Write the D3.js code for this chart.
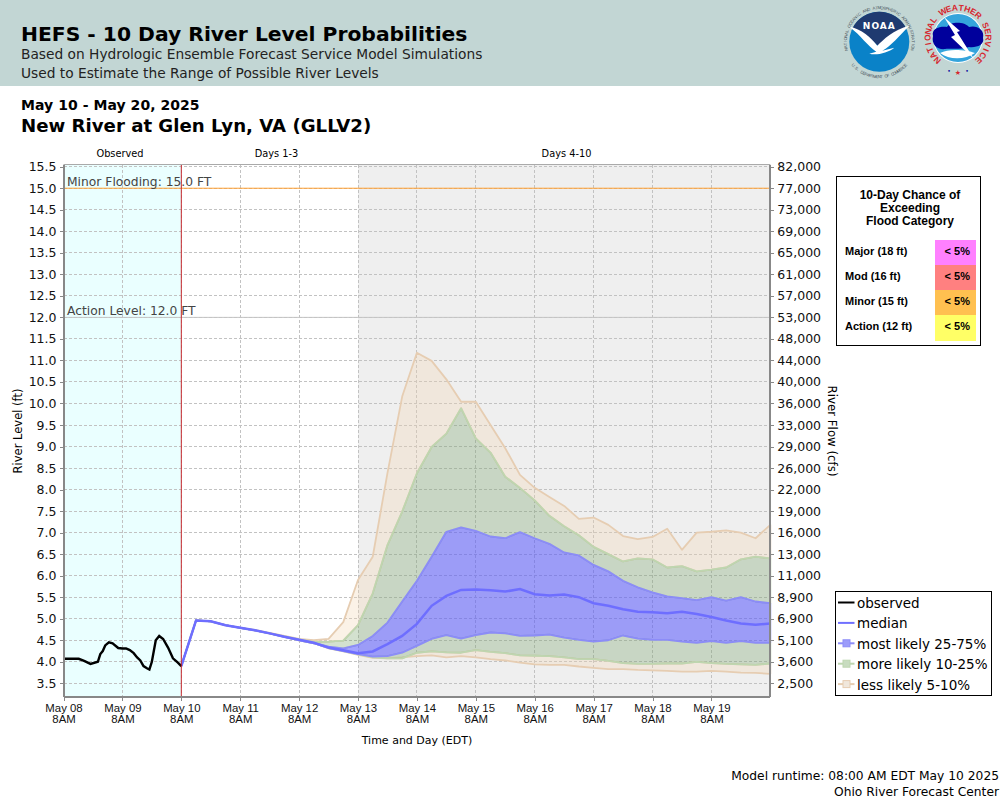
<!DOCTYPE html>
<html>
<head>
<meta charset="utf-8">
<script src="https://cdn.jsdelivr.net/npm/d3@7"></script>
<style>
html, body { margin: 0; padding: 0; background: #fff; }
svg { display: block; font-family: "DejaVu Sans", sans-serif; }
.grid line { stroke: #c2c2c2; stroke-dasharray: 3 2; stroke-width: 1; shape-rendering: crispEdges; }
.axis path, .axis line { stroke: #888; shape-rendering: crispEdges; }
.axis path { stroke-width: 2; }
.axis text { fill: #111; }
</style>
</head>
<body>
<svg id="chart" width="1000" height="800"></svg>
<script>
// values
var levelTicks = d3.range(3.5, 15.51, 0.5);
var flowLabels = ["2,500","3,600","5,100","6,900","8,900","11,000","13,000","16,000","19,000","22,000","26,000","29,000","33,000","36,000","40,000","44,000","48,000","53,000","57,000","61,000","65,000","69,000","73,000","77,000","82,000"];
var dayLabels = ["May 08","May 09","May 10","May 11","May 12","May 13","May 14","May 15","May 16","May 17","May 18","May 19"];

// observed stage, hours after May 08 8AM
var obsHours = [0,3,6.2,8.4,11,14,15,16,17,18.5,20,22.3,24,25.5,27,28.6,30,31.3,32.6,34,35,36,37.6,39,40.6,42.6,44.6,46.6,48];
var obsLevel = [4.07,4.07,4.07,4.02,3.95,4.0,4.18,4.25,4.38,4.45,4.43,4.32,4.31,4.31,4.27,4.2,4.1,4.03,3.9,3.85,3.82,4.0,4.5,4.6,4.53,4.33,4.08,3.98,3.9];

// forecast traces every 6 hours from May 10 8AM to May 20 8AM
var forecastStepHours = 6;
var forecastStart = 48;
var p95 = [3.9,4.96,4.94,4.85,4.79,4.74,4.67,4.6,4.53,4.5,4.53,4.92,5.9,6.44,8.38,10.16,11.18,10.99,10.56,10.04,10.04,9.5,8.96,8.34,8.04,7.83,7.62,7.32,7.35,7.18,6.92,6.85,6.9,7.09,6.6,7.0,7.02,7.05,7.0,6.87,7.18];
var p90 = [3.9,4.96,4.94,4.85,4.79,4.73,4.66,4.59,4.52,4.46,4.47,4.49,4.85,5.59,6.71,7.49,8.38,8.99,9.3,9.89,9.19,8.86,8.3,8.04,7.75,7.39,7.15,6.94,6.67,6.5,6.33,6.4,6.38,6.19,6.22,6.1,6.14,6.19,6.38,6.44,6.4];
var p75 = [3.9,4.96,4.94,4.85,4.79,4.73,4.66,4.58,4.51,4.44,4.35,4.31,4.39,4.6,4.91,5.4,5.88,6.44,7.02,7.12,7.04,6.91,6.87,7.01,6.87,6.74,6.54,6.47,6.25,6.1,5.88,5.73,5.61,5.52,5.48,5.43,5.5,5.42,5.5,5.4,5.36];
var p50 = [3.9,4.96,4.94,4.85,4.79,4.73,4.66,4.58,4.51,4.44,4.33,4.27,4.2,4.24,4.41,4.6,4.88,5.3,5.53,5.67,5.68,5.66,5.63,5.69,5.57,5.54,5.56,5.5,5.36,5.3,5.22,5.16,5.15,5.13,5.16,5.11,5.04,4.96,4.89,4.86,4.89];
var p25 = [3.9,4.96,4.94,4.85,4.79,4.73,4.66,4.58,4.5,4.43,4.32,4.25,4.18,4.12,4.13,4.21,4.37,4.53,4.62,4.54,4.62,4.68,4.66,4.6,4.61,4.63,4.56,4.51,4.47,4.5,4.61,4.54,4.51,4.51,4.47,4.44,4.48,4.44,4.48,4.44,4.44];
var p10 = [3.9,4.96,4.94,4.85,4.79,4.73,4.66,4.58,4.5,4.43,4.32,4.25,4.17,4.1,4.08,4.08,4.21,4.24,4.22,4.21,4.27,4.23,4.2,4.15,4.14,4.13,4.1,4.06,4.06,4.02,3.97,3.95,3.95,3.96,3.96,4.0,3.97,3.95,3.94,3.93,3.96];
var p05 = [3.9,4.96,4.94,4.85,4.79,4.73,4.66,4.58,4.5,4.43,4.31,4.24,4.16,4.09,4.08,4.1,4.13,4.15,4.1,4.13,4.1,4.06,4.03,3.98,3.94,3.93,3.93,3.89,3.86,3.83,3.83,3.81,3.8,3.79,3.77,3.77,3.79,3.77,3.75,3.74,3.72];

var floodCats = ["Major (18 ft)","Mod (16 ft)","Minor (15 ft)","Action (12 ft)"];
var floodChance = ["< 5%","< 5%","< 5%","< 5%"];
var floodColors = ["#ff80ff","#ff8080","#ffc050","#ffff66"];

var legendNames = ["observed","median","most likely 25-75%","more likely 10-25%","less likely 5-10%"];

var svg = d3.select("#chart");

// header
svg.append("rect").attr("width", 1000).attr("height", 86).attr("fill", "#c2d6d4");
svg.append("text").attr("x", 21).attr("y", 40.5).attr("font-size", 20.3).attr("font-weight", "bold").text("HEFS - 10 Day River Level Probabilities");
svg.append("text").attr("x", 21).attr("y", 59).attr("font-size", 13.76).attr("fill", "#222").text("Based on Hydrologic Ensemble Forecast Service Model Simulations");
svg.append("text").attr("x", 21).attr("y", 78).attr("font-size", 13.76).attr("fill", "#222").text("Used to Estimate the Range of Possible River Levels");
svg.append("text").attr("x", 21).attr("y", 110).attr("font-size", 14).attr("font-weight", "bold").attr("letter-spacing", 0.05).text("May 10 - May 20, 2025");
svg.append("text").attr("x", 21).attr("y", 132).attr("font-size", 18.15).attr("font-weight", "bold").text("New River at Glen Lyn, VA (GLLV2)");

// letters around a logo, angles in degrees clockwise from the top
function ringText(g, str, r, a0, a1, size, fill, weight, inward) {
    var step = (a1 - a0) / (str.length - 1);
    g.selectAll(null).data(str.split("")).enter().append("text")
        .attr("transform", function(d, i) {
            var a = a0 + i * step;
            return "rotate(" + a + ") translate(0," + (-r) + ")" + (inward ? " rotate(180)" : "");
        })
        .attr("text-anchor", "middle")
        .attr("font-size", size)
        .attr("font-weight", weight)
        .attr("font-family", "Liberation Sans, sans-serif")
        .attr("fill", fill)
        .text(function(d) { return d; });
}
function noaaLogo(cx, cy) {
    var g = svg.append("g").attr("transform", "translate(" + cx + "," + cy + ")");
    g.append("circle").attr("r", 30).attr("fill", "#0a82c8");
    g.append("path").attr("d", "M-27,-13 A30,30 0 0 1 27,-13 C14,-8 6,2 -1,4 C-7,0 -14,-10 -27,-13 Z").attr("fill", "#1f3a70");
    g.append("path").attr("d", "M-30,-15 C-18,-13 -8,-4 -2,4 C4,-2 14,-12 30,-16 C20,-6 12,4 3,9 L15,6 C9,11 -3,14 -10,12 L-3,10 C-12,4 -18,-6 -30,-15 Z").attr("fill", "#fff");
    g.append("text").attr("y", -12.4).attr("text-anchor", "middle").attr("font-size", 9).attr("font-weight", "bold").attr("letter-spacing", 1).attr("fill", "#fff").text("NOAA");
    ringText(g, "NATIONAL OCEANIC AND ATMOSPHERIC ADMINISTRATION", 32.5, -103, 103, 4.2, "#4a5560", "normal", false);
    ringText(g, "U.S. DEPARTMENT OF COMMERCE", 36.5, 228, 132, 4.2, "#4a5560", "normal", true);
}
function nwsLogo(cx, cy) {
    var g = svg.append("g").attr("transform", "translate(" + cx + "," + cy + ")");
    g.append("circle").attr("r", 25).attr("fill", "#fff");
    g.append("circle").attr("r", 24).attr("fill", "#34a4dc");
    g.append("path").attr("d", "M-25,-2 C-27,-10 -17,-12 -11,-11 C-7,-17 7,-16 11,-11 C18,-13 27,-9 25,0 C27,7 18,10 11,9 C2,12 -9,10 -13,11 C-20,12 -27,7 -25,-2 Z").attr("fill", "#00009c");
    g.append("path").attr("d", "M-18,15 C-9,10 9,12 17,15 C7,22 -9,22 -18,15 Z").attr("fill", "#fff");
    g.append("path").attr("d", "M-14,-21 L2,-7 L-1,-6 L16,21 L-7,-1 L-3,-3 Z").attr("fill", "#fff");
    ringText(g, "NATIONAL WEATHER SERVICE", 27.5, -137, 137, 8.5, "#d6262e", "bold", false);
    g.append("text").attr("y", 37).attr("text-anchor", "middle").attr("font-size", 7).attr("fill", "#d6262e").text("\u2605");
    g.append("text").attr("x", -9).attr("y", 35).attr("text-anchor", "middle").attr("font-size", 6).attr("fill", "#00009c").text("\u2022");
    g.append("text").attr("x", 9).attr("y", 35).attr("text-anchor", "middle").attr("font-size", 6).attr("fill", "#00009c").text("\u2022");
}
noaaLogo(879.3, 41.7);
nwsLogo(958, 38);

// scales
var plot = {left: 63.5, right: 770.3, top: 164.5, bottom: 697.3};
var totalHours = 288;
var x = d3.scaleLinear().domain([0, totalHours]).range([plot.left, plot.right]);
var y = d3.scaleLinear().domain([3.5, 15.5]).range([683.3, 166.7]);
var dayHours = dayLabels.map(function(d, i) { return i * 24; });

// shaded periods
svg.append("rect").attr("x", x(0)).attr("y", plot.top).attr("width", x(48) - x(0)).attr("height", plot.bottom - plot.top).attr("fill", "#eaffff");
svg.append("rect").attr("x", x(120)).attr("y", plot.top).attr("width", x(totalHours) - x(120)).attr("height", plot.bottom - plot.top).attr("fill", "#efefef");

// grid
var grid = svg.append("g").attr("class", "grid");
grid.selectAll(".h").data(levelTicks).enter().append("line").attr("class", "h")
    .attr("x1", plot.left).attr("x2", plot.right)
    .attr("y1", function(d) { return y(d); }).attr("y2", function(d) { return y(d); });
grid.selectAll(".v").data(dayHours.slice(1)).enter().append("line").attr("class", "v")
    .attr("y1", plot.top).attr("y2", plot.bottom)
    .attr("x1", function(d) { return x(d); }).attr("x2", function(d) { return x(d); });

// flood lines
svg.append("line").attr("x1", plot.left).attr("x2", plot.right).attr("y1", y(15)).attr("y2", y(15)).attr("stroke", "#ffa033").attr("stroke-width", 1);
svg.append("line").attr("x1", plot.left).attr("x2", plot.right).attr("y1", y(12)).attr("y2", y(12)).attr("stroke", "#c4c4c4").attr("stroke-width", 1);
svg.append("text").attr("x", 67).attr("y", y(15) - 2.5).attr("font-size", 12.3).attr("fill", "#444").text("Minor Flooding: 15.0 FT");
svg.append("text").attr("x", 67).attr("y", y(12) - 2.5).attr("font-size", 12.3).attr("fill", "#444").text("Action Level: 12.0 FT");

// period labels
[["Observed", 120], ["Days 1-3", 276.5], ["Days 4-10", 566.5]].forEach(function(d) {
    svg.append("text").attr("x", d[1]).attr("y", 157).attr("text-anchor", "middle").attr("font-size", 9.8).text(d[0]);
});

// forecast bands
var hourOf = function(i) { return forecastStart + i * forecastStepHours; };
function band(upper, lower, fill, alpha, line) {
    var area = d3.area()
        .x(function(d, i) { return x(hourOf(i)); })
        .y0(function(d, i) { return y(lower[i]); })
        .y1(function(d) { return y(d); });
    svg.append("path").datum(upper).attr("d", area).attr("fill", fill).attr("fill-opacity", alpha)
        .attr("stroke", line).attr("stroke-width", 1.8).attr("stroke-linejoin", "round");
}
band(p95, p90, "#f2d4af", 0.3, "#e6cdb2");
band(p10, p05, "#f2d4af", 0.3, "#e6cdb2");
band(p90, p75, "#6d9b5f", 0.3, "#bed6b0");
band(p25, p10, "#6d9b5f", 0.3, "#bed6b0");
band(p75, p25, "#4949ff", 0.5, "#8c8cf8");

var line = d3.line()
    .x(function(d, i) { return x(hourOf(i)); })
    .y(function(d) { return y(d); });
svg.append("path").datum(p50).attr("d", line).attr("fill", "none").attr("stroke", "#6e6eff").attr("stroke-width", 2.5);

var obsLine = d3.line()
    .x(function(d, i) { return x(obsHours[i]); })
    .y(function(d) { return y(d); });
svg.append("path").datum(obsLevel).attr("d", obsLine).attr("fill", "none").attr("stroke", "#000").attr("stroke-width", 2.4);

// now line
svg.append("line").attr("x1", x(48)).attr("x2", x(48)).attr("y1", plot.top).attr("y2", plot.bottom).attr("stroke", "#c8282d").attr("stroke-width", 1);

// axes
var fmtLevel = d3.format(".1f");
var leftAxis = d3.axisLeft(y).tickValues(levelTicks).tickFormat(fmtLevel).tickSize(4).tickSizeOuter(0);
var rightAxis = d3.axisRight(y).tickValues(levelTicks).tickSize(4).tickSizeOuter(0)
    .tickFormat(function(d, i) { return flowLabels[i]; });
var bottomAxis = d3.axisBottom(x).tickValues(dayHours).tickSize(4).tickSizeOuter(0).tickFormat("");

function frameDomain(g, d) { g.select(".domain").attr("d", d); }
var ga = svg.append("g").attr("class", "axis").attr("transform", "translate(" + plot.left + ",0)").call(leftAxis);
frameDomain(ga, "M0," + plot.top + "V" + plot.bottom);
ga.selectAll("text").attr("font-size", 12.5).attr("font-family", "DejaVu Sans");
var gr = svg.append("g").attr("class", "axis").attr("transform", "translate(" + plot.right + ",0)").call(rightAxis);
frameDomain(gr, "M0," + plot.top + "V" + plot.bottom);
gr.selectAll("text").attr("font-size", 12.5).attr("font-family", "DejaVu Sans");
var gb = svg.append("g").attr("class", "axis").attr("transform", "translate(0," + plot.bottom + ")").call(bottomAxis);
frameDomain(gb, "M" + plot.left + ",0H" + plot.right);
svg.append("line").attr("x1", plot.left).attr("x2", plot.right).attr("y1", plot.top).attr("y2", plot.top).attr("stroke", "#aaa").attr("stroke-width", 1);

gb.selectAll(".tick").each(function(d, i) {
    var t = d3.select(this);
    t.select("text").remove();
    t.append("text").attr("y", 14.5).attr("text-anchor", "middle").attr("font-size", 11.4).attr("fill", "#111").text(dayLabels[i]);
    t.append("text").attr("y", 26).attr("text-anchor", "middle").attr("font-size", 11.4).attr("fill", "#111").text("8AM");
});

svg.append("text").attr("x", 417).attr("y", 744).attr("text-anchor", "middle").attr("font-size", 11).text("Time and Day (EDT)");
svg.append("text").attr("transform", "translate(22,431) rotate(-90)").attr("text-anchor", "middle").attr("font-size", 11.5).text("River Level (ft)");
svg.append("text").attr("transform", "translate(828,431) rotate(90)").attr("text-anchor", "middle").attr("font-size", 11.8).text("River Flow (cfs)");

// flood category table
var tbl = svg.append("g").attr("font-family", "Liberation Sans, sans-serif").attr("font-weight", "bold");
tbl.append("rect").attr("x", 836.5).attr("y", 176.5).attr("width", 144).attr("height", 169).attr("fill", "#fff").attr("stroke", "#000");
["10-Day Chance of", "Exceeding", "Flood Category"].forEach(function(d, i) {
    tbl.append("text").attr("x", 910).attr("y", 199 + i * 13).attr("text-anchor", "middle").attr("font-size", 12).text(d);
});
floodCats.forEach(function(d, i) {
    var top = 240 + i * 25;
    tbl.append("rect").attr("x", 935).attr("y", top).attr("width", 41).attr("height", i == 3 ? 26 : 25).attr("fill", floodColors[i]);
    tbl.append("text").attr("x", 845).attr("y", top + 15).attr("font-size", 11).text(d);
    tbl.append("text").attr("x", 970).attr("y", top + 15).attr("text-anchor", "end").attr("font-size", 11).text(floodChance[i]);
});

// legend
var leg = svg.append("g");
leg.append("rect").attr("x", 835.5).attr("y", 591.5).attr("width", 156).attr("height", 104).attr("fill", "#fff").attr("stroke", "#000");
var legendLine = ["#000", "#7070ff", "#8c8cf8", "#bed6b0", "#e6cdb2"];
var legendFill = [null, null, "#9c9cfa", "#c8dcc0", "#f0e7dc"];
legendNames.forEach(function(d, i) {
    var ly = 602.5 + i * 20.4;
    leg.append("line").attr("x1", 838).attr("x2", 854.5).attr("y1", ly).attr("y2", ly).attr("stroke", legendLine[i]).attr("stroke-width", 2);
    if (legendFill[i]) {
        leg.append("rect").attr("x", 843).attr("y", ly - 3.5).attr("width", 7).attr("height", 7).attr("fill", legendFill[i]).attr("stroke", legendLine[i]);
    }
    leg.append("text").attr("x", 857).attr("y", ly + 5.5).attr("font-size", 13.5).text(d);
});

// footer
svg.append("text").attr("x", 999).attr("y", 780).attr("text-anchor", "end").attr("font-size", 12.27).text("Model runtime: 08:00 AM EDT May 10 2025");
svg.append("text").attr("x", 999).attr("y", 796).attr("text-anchor", "end").attr("font-size", 12.27).text("Ohio River Forecast Center");
</script>
</body>
</html>
